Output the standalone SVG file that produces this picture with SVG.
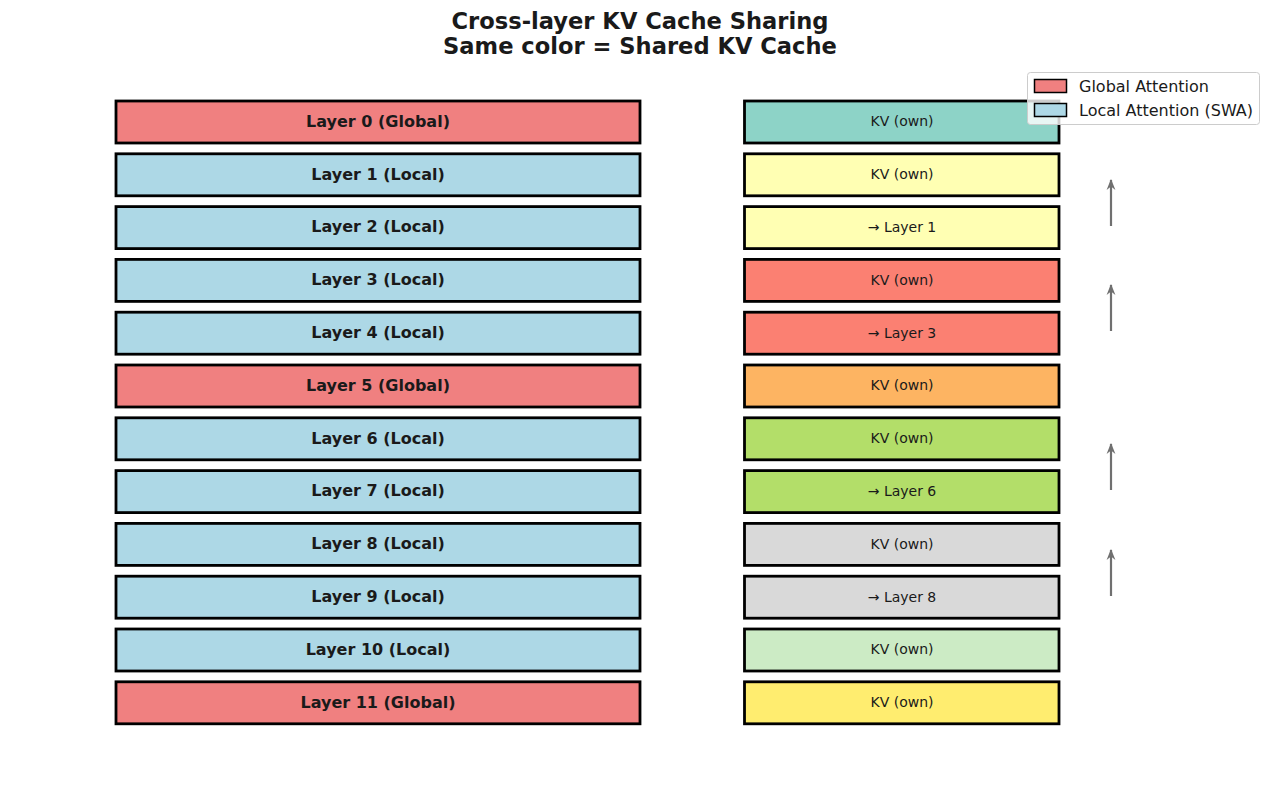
<svg xmlns="http://www.w3.org/2000/svg" width="1280" height="789" viewBox="0 0 1280 789">
<style>
.layer{stroke:#000;stroke-width:2.8}
.g{fill:#F08080}
.l{fill:#ADD8E6}
.lt{font-family:"DejaVu Sans",sans-serif;font-size:16px;font-weight:bold;fill:#1a1a1a;text-anchor:middle;dominant-baseline:central}
.kt{font-family:"DejaVu Sans",sans-serif;font-size:14px;fill:#1a1a1a;text-anchor:middle;dominant-baseline:central}
.title{font-family:"DejaVu Sans",sans-serif;font-size:22.6px;font-weight:bold;fill:#1a1a1a;text-anchor:middle}
.arr{stroke:#707070;stroke-width:2.2;fill:none;marker-end:url(#ah)}
.leg{font-family:"DejaVu Sans",sans-serif;font-size:16px;fill:#1a1a1a}
</style>
<defs>
<marker id="ah" viewBox="0 0 10 10" refX="9" refY="5" markerWidth="5" markerHeight="5" orient="auto" markerUnits="strokeWidth">
<path d="M0,1 L10,5 L0,9 L3,5 Z" fill="#707070"/>
</marker>
</defs>
<rect width="1280" height="789" fill="#fff"/>
<text class="title" x="640" y="29">Cross-layer KV Cache Sharing</text>
<text class="title" x="640" y="54">Same color = Shared KV Cache</text>

<g id="layer0"><rect class="layer g" x="116" y="101" width="524" height="42"/><text class="lt" x="378" y="121.3">Layer 0 (Global)</text></g>
<g id="layer1"><rect class="layer l" x="116" y="153.8" width="524" height="42"/><text class="lt" x="378" y="174.1">Layer 1 (Local)</text></g>
<g id="layer2"><rect class="layer l" x="116" y="206.6" width="524" height="42"/><text class="lt" x="378" y="226.9">Layer 2 (Local)</text></g>
<g id="layer3"><rect class="layer l" x="116" y="259.4" width="524" height="42"/><text class="lt" x="378" y="279.7">Layer 3 (Local)</text></g>
<g id="layer4"><rect class="layer l" x="116" y="312.2" width="524" height="42"/><text class="lt" x="378" y="332.5">Layer 4 (Local)</text></g>
<g id="layer5"><rect class="layer g" x="116" y="365" width="524" height="42"/><text class="lt" x="378" y="385.3">Layer 5 (Global)</text></g>
<g id="layer6"><rect class="layer l" x="116" y="417.8" width="524" height="42"/><text class="lt" x="378" y="438.1">Layer 6 (Local)</text></g>
<g id="layer7"><rect class="layer l" x="116" y="470.6" width="524" height="42"/><text class="lt" x="378" y="490.9">Layer 7 (Local)</text></g>
<g id="layer8"><rect class="layer l" x="116" y="523.4" width="524" height="42"/><text class="lt" x="378" y="543.7">Layer 8 (Local)</text></g>
<g id="layer9"><rect class="layer l" x="116" y="576.2" width="524" height="42"/><text class="lt" x="378" y="596.5">Layer 9 (Local)</text></g>
<g id="layer10"><rect class="layer l" x="116" y="629" width="524" height="42"/><text class="lt" x="378" y="649.3">Layer 10 (Local)</text></g>
<g id="layer11"><rect class="layer g" x="116" y="681.8" width="524" height="42"/><text class="lt" x="378" y="702.1">Layer 11 (Global)</text></g>

<g id="kv0"><rect class="layer" fill="#8DD3C7" x="744.5" y="101" width="314.5" height="42"/><text class="kt" x="902" y="121.3">KV (own)</text></g>
<g id="kv1"><rect class="layer" fill="#FFFFB3" x="744.5" y="153.8" width="314.5" height="42"/><text class="kt" x="902" y="174.1">KV (own)</text></g>
<g id="kv2"><rect class="layer" fill="#FFFFB3" x="744.5" y="206.6" width="314.5" height="42"/><text class="kt" x="902" y="226.9">→ Layer 1</text></g>
<g id="kv3"><rect class="layer" fill="#FB8072" x="744.5" y="259.4" width="314.5" height="42"/><text class="kt" x="902" y="279.7">KV (own)</text></g>
<g id="kv4"><rect class="layer" fill="#FB8072" x="744.5" y="312.2" width="314.5" height="42"/><text class="kt" x="902" y="332.5">→ Layer 3</text></g>
<g id="kv5"><rect class="layer" fill="#FDB462" x="744.5" y="365" width="314.5" height="42"/><text class="kt" x="902" y="385.3">KV (own)</text></g>
<g id="kv6"><rect class="layer" fill="#B3DE69" x="744.5" y="417.8" width="314.5" height="42"/><text class="kt" x="902" y="438.1">KV (own)</text></g>
<g id="kv7"><rect class="layer" fill="#B3DE69" x="744.5" y="470.6" width="314.5" height="42"/><text class="kt" x="902" y="490.9">→ Layer 6</text></g>
<g id="kv8"><rect class="layer" fill="#D9D9D9" x="744.5" y="523.4" width="314.5" height="42"/><text class="kt" x="902" y="543.7">KV (own)</text></g>
<g id="kv9"><rect class="layer" fill="#D9D9D9" x="744.5" y="576.2" width="314.5" height="42"/><text class="kt" x="902" y="596.5">→ Layer 8</text></g>
<g id="kv10"><rect class="layer" fill="#CCEBC5" x="744.5" y="629" width="314.5" height="42"/><text class="kt" x="902" y="649.3">KV (own)</text></g>
<g id="kv11"><rect class="layer" fill="#FFED6F" x="744.5" y="681.8" width="314.5" height="42"/><text class="kt" x="902" y="702.1">KV (own)</text></g>

<g id="connectors">
<line class="arr" x1="1111" y1="226" x2="1111" y2="180"/>
<line class="arr" x1="1111" y1="331" x2="1111" y2="285"/>
<line class="arr" x1="1111" y1="490" x2="1111" y2="444"/>
<line class="arr" x1="1111" y1="596" x2="1111" y2="550"/>
</g>

<g id="legend">
<rect x="1027.5" y="72.5" width="232" height="52" rx="3" fill="#fff" fill-opacity="0.8" stroke="#ccc" stroke-width="1"/>
<rect x="1034.5" y="79.5" width="32" height="13" fill="#F08080" stroke="#000" stroke-width="1.5"/>
<rect x="1034.5" y="103.5" width="32" height="13" fill="#ADD8E6" stroke="#000" stroke-width="1.5"/>
<text class="leg" x="1079" y="91.5">Global Attention</text>
<text class="leg" x="1079" y="115.5">Local Attention (SWA)</text>
</g>
</svg>
